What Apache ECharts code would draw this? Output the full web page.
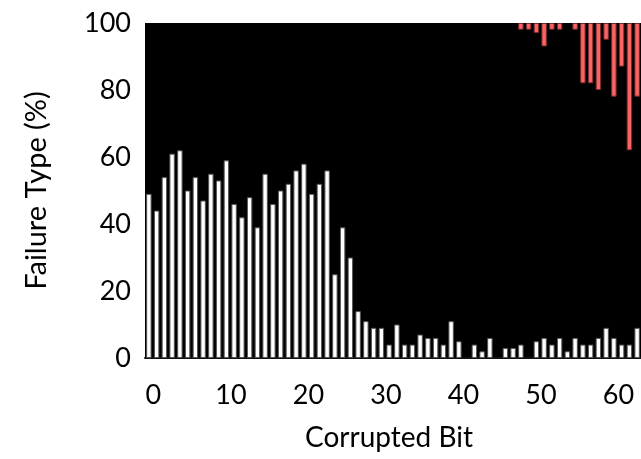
<!DOCTYPE html>
<html>
<head>
<meta charset="utf-8">
<script src="https://cdn.jsdelivr.net/npm/echarts@6/dist/echarts.min.js"></script>
<style>html,body{margin:0;padding:0;background:#fff}#c{width:641px;height:459px}</style>
</head>
<body>
<div id="c"></div>
<script>
const bits = Array.from({length: 64}, (_, i) => String(i));
const whiteFailures = [49,44,54,61,62,50,54,47,55,53,59,46,42,48,39,55,46,50,52,56,58,49,52,56,25,39,30,14,11,9,9,4,10,4,4,7,6,6,4,11,5,0,4,2,6,0,3,3,4,0,5,6,4,6,2,6,4,4,6,9,6,4,4,9];
const redFailures = [0,0,0,0,0,0,0,0,0,0,0,0,0,0,0,0,0,0,0,0,0,0,0,0,0,0,0,0,0,0,0,0,0,0,0,0,0,0,0,0,0,0,0,0,0,0,0,0,2,2,3,7,2,2,0,2,18,18,20,5,22,13,38,22];
const yTicks = [0,20,40,60,80,100];

const FONT = 'Lato';
const chart = echarts.init(document.getElementById('c'), null, {renderer: 'canvas'});
chart.setOption({
  animation: false,
  grid: {left: 145, top: 23, bottom: 101, width: 499, backgroundColor: '#000', show: true, borderWidth: 0},
  xAxis: {
    type: 'category', data: bits,
    name: 'Corrupted Bit', nameLocation: 'middle', nameGap: 66,
    nameTextStyle: {fontFamily: FONT, fontSize: 28, color: '#000', padding: [0, 8, 0, 0]},
    axisLine: {lineStyle: {color: '#111', width: 2}},
    axisTick: {show: false},
    axisLabel: {
      interval: (i) => i % 10 === 0,
      fontFamily: FONT, fontSize: 27, color: '#000', margin: 24,
      padding: [0, 0, 0, 9]
    }
  },
  yAxis: [{
    type: 'value', min: 0, max: 100, interval: 20,
    name: 'Failure Type (%)', nameLocation: 'middle', nameGap: 94,
    nameTextStyle: {fontFamily: FONT, fontSize: 29, color: '#000'},
    axisLine: {show: false}, axisTick: {show: false}, splitLine: {show: false},
    axisLabel: {fontFamily: FONT, fontSize: 27, color: '#000', margin: 14,
      formatter: (v) => yTicks.includes(v) ? String(v) : ''}
  }, {
    type: 'value', min: 0, max: 100, inverse: true, show: false
  }],
  series: [{
    type: 'bar', data: whiteFailures.map(v => v === 0 ? null : v), yAxisIndex: 0,
    barWidth: '70%', barGap: '-100%',
    itemStyle: {color: '#fff', borderColor: '#555', borderWidth: 1}
  }, {
    type: 'bar', data: redFailures.map(v => v === 0 ? null : v), yAxisIndex: 1,
    barWidth: '70%', barGap: '-100%',
    itemStyle: {color: '#fa6464', borderColor: '#7a2a2a', borderWidth: 1}
  }]
});
</script>
</body>
</html>
